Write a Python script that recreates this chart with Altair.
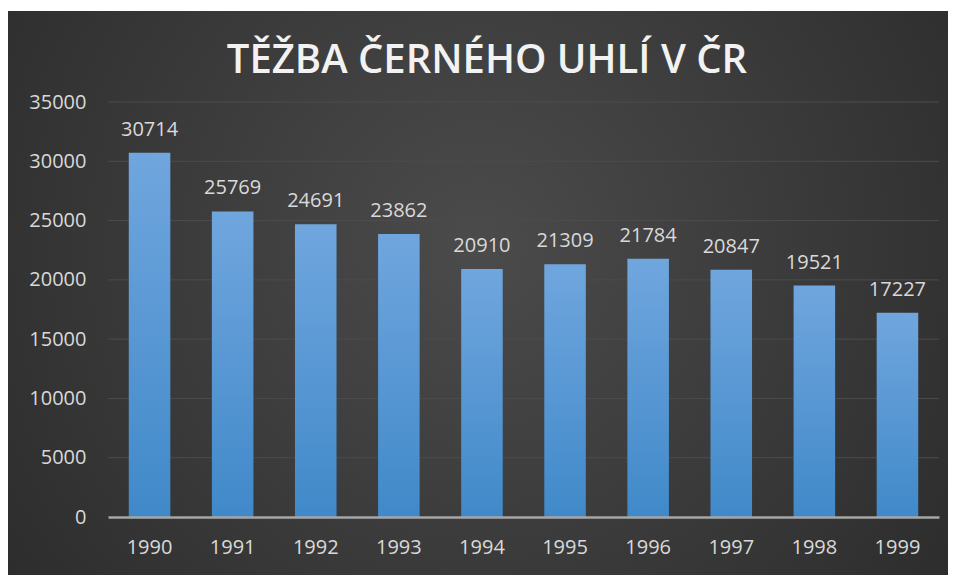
import altair as alt
import pandas as pd

years = ["1990", "1991", "1992", "1993", "1994", "1995", "1996", "1997", "1998", "1999"]
tons = [30714, 25769, 24691, 23862, 20910, 21309, 21784, 20847, 19521, 17227]
y_ticks = [0, 5000, 10000, 15000, 20000, 25000, 30000, 35000]
title_text = "TĚŽBA ČERNÉHO UHLÍ V ČR"

W, H = 831, 415
FONT = "Open Sans"
LABEL = "#d9d9d9"

df = pd.DataFrame({"year": years, "tons": tons})
grid_df = pd.DataFrame({"tons": y_ticks[1:]})
one = pd.DataFrame({"t": [title_text]})

bg = alt.Chart(one).mark_rect(
    fill=alt.RadialGradient(
        gradient="radial", x1=0.5, y1=0.45, r1=0, x2=0.5, y2=0.45, r2=0.75,
        stops=[alt.GradientStop(offset=0, color="#4b4b4b"),
               alt.GradientStop(offset=1, color="#262626")]),
).encode(x=alt.value(-100), x2=alt.value(W + 9), y=alt.value(-91), y2=alt.value(H + 58))

grid = alt.Chart(grid_df).mark_rule(color="#4c4c4c", strokeWidth=1).encode(
    y=alt.Y("tons:Q"), x=alt.value(0), x2=alt.value(W)
)

x_enc = alt.X("year:N", sort=years,
              scale=alt.Scale(paddingInner=0.5, paddingOuter=0.25),
              axis=alt.Axis(title=None, labelAngle=0, ticks=False, domain=True,
                            domainColor="#a6a6a6", domainWidth=2.5,
                            labelColor=LABEL, labelFont=FONT, labelFontSize=20,
                            labelPadding=20, zindex=1))
y_enc = alt.Y("tons:Q", scale=alt.Scale(domain=[0, 35000], nice=False),
              axis=alt.Axis(title=None, values=y_ticks, format="d", grid=False, ticks=False,
                            domain=False, labelColor=LABEL, labelFont=FONT,
                            labelFontSize=20, labelPadding=22, zindex=1))

bars = alt.Chart(df).mark_bar(
    color=alt.LinearGradient(
        gradient="linear", x1=0, y1=0, x2=0, y2=1,
        stops=[alt.GradientStop(offset=0, color="#70a6de"),
               alt.GradientStop(offset=1, color="#4089c9")]),
).encode(x=x_enc, y=y_enc)

labels = alt.Chart(df).mark_text(
    baseline="alphabetic", dy=-17, font=FONT, fontSize=20, color=LABEL
).encode(x=alt.X("year:N", sort=years), y=alt.Y("tons:Q"), text=alt.Text("tons:Q", format="d"))

title = alt.Chart(one).mark_text(
    align="center", baseline="alphabetic", font=FONT, fontSize=40, fontWeight=600,
    color="#f2f2f2"
).encode(x=alt.value(379), y=alt.value(-29), text="t:N")

chart = alt.layer(bg, grid, bars, labels, title).properties(
    width=W, height=H,
    padding={"left": 100, "top": 94, "right": 9, "bottom": 58},
    autosize=alt.AutoSizeParams(type="none"),
    background="white",
).configure_view(stroke=None)

chart.save("out.html", embed_options={"renderer": "svg", "actions": False})
